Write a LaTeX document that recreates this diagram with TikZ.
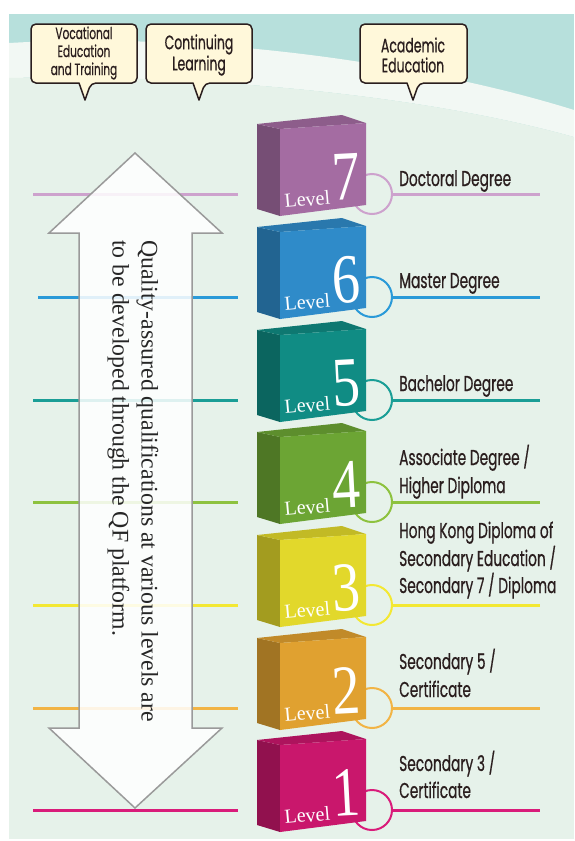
\documentclass[tikz,border=0pt]{standalone}
\usepackage{fontspec}
\setmainfont{Liberation Serif}
\newfontfamily\geo[FakeStretch=0.64, FakeBold=0.6]{Poppins}
\newfontfamily\digitfont[FakeStretch=0.8]{Liberation Serif}
\definecolor{panel}{HTML}{E6F2EA}
\definecolor{tealtop}{HTML}{B7E0DC}
\definecolor{band}{HTML}{F2F8F4}
\definecolor{cream}{HTML}{FFF8DA}
\definecolor{ink}{HTML}{2A1E1E}
\definecolor{arrowgray}{HTML}{9A9A9A}
\definecolor{f7}{HTML}{A46CA2}
\definecolor{f6}{HTML}{2F8BC9}
\definecolor{f5}{HTML}{108C84}
\definecolor{f4}{HTML}{6CA534}
\definecolor{f3}{HTML}{E2D82B}
\definecolor{f2}{HTML}{E0A130}
\definecolor{f1}{HTML}{C9176C}
\definecolor{l7}{HTML}{CDA2CD}
\definecolor{l6}{HTML}{2A9AD8}
\definecolor{l5}{HTML}{1A9E96}
\definecolor{l4}{HTML}{8DC23F}
\definecolor{l3}{HTML}{F3E833}
\definecolor{l2}{HTML}{F2B445}
\definecolor{l1}{HTML}{D91C7A}
\begin{document}
\begin{tikzpicture}[x=1pt,y=-1pt,
  lab/.style={font=\geo\fontsize{21.5}{24}\selectfont, anchor=base west, inner sep=0, text=ink},
  calltext/.style={font=\geo\fontsize{19.5}{20}\selectfont, align=center, inner sep=0, text=ink},
  callbox/.style={fill=cream, draw=ink, line width=1.5pt, line join=round},
  levtxt/.style={font=\fontsize{20}{20}\selectfont, text=white, inner sep=0},
  digtxt/.style={font=\digitfont\fontsize{70}{70}\selectfont, text=white, inner sep=0},
  levline/.style={line width=3pt},
  ring/.style={line width=2pt}]
\useasboundingbox (0,0) rectangle (574,841);
\fill[white] (0,0) rectangle (574,841);
% background
\fill[panel] (9,14) rectangle (574,839);
\fill[tealtop] (9,14) rectangle (574,140);
\fill[band] (9,43) .. controls (200,32) and (420,62) .. (574,110) -- (574,137) .. controls (420,94) and (200,74) .. (9,78) -- cycle;
\fill[panel] (9,78) .. controls (200,74) and (420,94) .. (574,137) -- (574,141) -- (9,141) -- cycle;
% left lines
\foreach \n/\L/\lc/\lx in {7/194/l7/33,6/297/l6/38,5/400/l5/33,4/502/l4/33,3/605/l3/33,2/708/l2/33,1/810/l1/33}{
  \coordinate (ls\n) at (\lx,\L);
  \coordinate (le\n) at (238,\L);
  \draw[levline,\lc] (ls\n) -- (le\n);
}
% double arrow
\filldraw[fill=white, fill opacity=0.86, draw=arrowgray, line width=1.5pt, line join=miter]
  (135,153) -- (222,233) -- (192,233) -- (192,728) -- (222,728) -- (135,808)
  -- (49,728) -- (79,728) -- (79,233) -- (49,233) -- cycle;
\node[rotate=-90, anchor=west, align=left, inner sep=0,
  font=\fontsize{23.8}{29}\selectfont, text=black!85] (arrowtext) at (133,240)
  {Quality-assured qualifications at various levels are\\to be developed through the QF platform.};
% levels
\foreach \n/\L/\fc/\lc in {7/194/f7/l7,6/297/f6/l6,5/400/f5/l5,4/502/f4/l4,3/605/f3/l3,2/708/f2/l2,1/810/f1/l1}{
  \coordinate (rc\n) at (372,\L);
  \draw[ring,\lc] (rc\n) circle[radius=20];
  \fill[\fc!72!black] (257,\L-70) -- (280,\L-65) -- (280,\L+22) -- (257,\L+15) -- cycle;
  \fill[\fc!86!black] (257,\L-70) -- (342,\L-79) -- (366,\L-71) -- (280,\L-65) -- cycle;
  \fill[\fc] (280,\L-65) -- (366,\L-71) -- (366,\L+11) -- (280,\L+22) -- cycle;
  \node[levtxt, rotate=5, anchor=base west] (lev\n) at (285,\L+14) {Level};
  \node[digtxt, rotate=3, anchor=base] (dig\n) at (347,\L+6) {\n};
  \coordinate (rs\n) at (391,\L);
  \coordinate (re\n) at (540,\L);
  \draw[levline,\lc] (rs\n) -- (re\n);
}
% labels
\node[lab] (t7) at (399,186) {Doctoral Degree};
\node[lab] (t6) at (399,288) {Master Degree};
\node[lab] (t5) at (399,391) {Bachelor Degree};
\node[lab] (t4a) at (399,465) {Associate Degree /};
\node[lab] (t4b) at (399,493) {Higher Diploma};
\node[lab] (t3a) at (399,538) {Hong Kong Diploma of};
\node[lab] (t3b) at (399,566) {Secondary Education /};
\node[lab] (t3c) at (399,593) {Secondary 7 / Diploma};
\node[lab] (t2a) at (399,669) {Secondary 5 /};
\node[lab] (t2b) at (399,697) {Certificate};
\node[lab] (t1a) at (399,771) {Secondary 3 /};
\node[lab] (t1b) at (399,798) {Certificate};
% callouts
\draw[callbox, rounded corners=5] (79,83) -- (31,83) -- (31,24) -- (137,24) -- (137,83) -- (91,83) [sharp corners] -- (85,100) -- cycle;
\draw[callbox, rounded corners=5] (193,83) -- (146,83) -- (146,24) -- (252,24) -- (252,83) -- (205,83) [sharp corners] -- (199,100) -- cycle;
\draw[callbox, rounded corners=5] (407,83) -- (360,83) -- (360,24) -- (467,24) -- (467,83) -- (419,83) [sharp corners] -- (413,100) -- cycle;
\node[calltext, font=\geo\fontsize{16.5}{18}\selectfont] (c1) at (84,53) {Vocational\\Education\\and Training};
\node[calltext] (c2) at (199,55) {Continuing\\Learning};
\node[calltext] (c3) at (413,55) {Academic\\Education};
\end{tikzpicture}
\end{document}
